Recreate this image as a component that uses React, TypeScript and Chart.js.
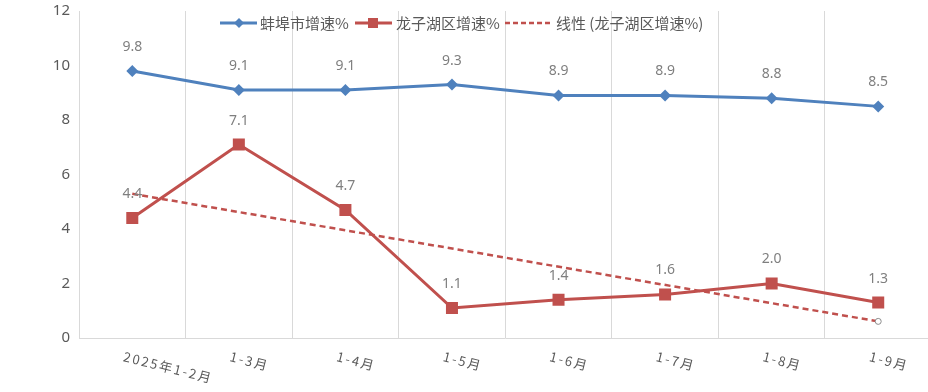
import React, { useEffect, useRef } from "react";
import { Chart, registerables } from "chart.js";

Chart.register(...registerables);

const categories = ["2025年1-2月", "1-3月", "1-4月", "1-5月", "1-6月", "1-7月", "1-8月", "1-9月"];
const bengbu = [9.8, 9.1, 9.1, 9.3, 8.9, 8.9, 8.8, 8.5];
const longzihu = [4.4, 7.1, 4.7, 1.1, 1.4, 1.6, 2.0, 1.3];
// linear trend endpoints
const trend = [5.29, null, null, null, null, null, null, 0.61];
const yTicks = [0, 2, 4, 6, 8, 10, 12];
const legendLabels = ["蚌埠市增速%", "龙子湖区增速%", "线性 (龙子湖区增速%)"];

const BLUE = "#4f81bd";
const RED = "#c0504d";
const TEXT = "#595959";
const LABEL = "#7f7f7f";
const GRID = "#d9d9d9";
const CJK = '"Noto Sans CJK SC", "Noto Sans", sans-serif';

const customPlugin = {
  id: "custom",
  afterDatasetsDraw(chart: any) {
    const ctx = chart.ctx;
    ctx.save();
    ctx.font = "14px 'Noto Sans', sans-serif";
    ctx.fillStyle = LABEL;
    ctx.textAlign = "center";
    ctx.textBaseline = "middle";
    [0, 1].forEach((di) => {
      const meta = chart.getDatasetMeta(di);
      const data = chart.data.datasets[di].data as number[];
      meta.data.forEach((pt: any, i: number) => {
        ctx.fillText(data[i].toFixed(1), pt.x, pt.y - 24);
      });
    });
    ctx.restore();
  },
  afterDraw(chart: any) {
    const ctx = chart.ctx;
    const xs = chart.scales.x;
    // x labels
    ctx.save();
    ctx.font = "13px " + CJK;
    ctx.fillStyle = TEXT;
    ctx.textAlign = "left";
    ctx.textBaseline = "top";
    try {
      (ctx as any).letterSpacing = "2px";
    } catch (e) {}
    categories.forEach((c, i) => {
      const x = xs.getPixelForValue(i);
      ctx.save();
      ctx.translate(x - 7, 350);
      ctx.rotate((14 * Math.PI) / 180);
      ctx.fillText(c, 0, 0);
      ctx.restore();
    });
    ctx.restore();

    // legend
    ctx.save();
    const ly = 23;
    ctx.font = "15px " + CJK;
    ctx.fillStyle = TEXT;
    ctx.textAlign = "left";
    ctx.textBaseline = "middle";
    // item 1
    ctx.strokeStyle = BLUE;
    ctx.lineWidth = 3;
    ctx.beginPath();
    ctx.moveTo(220, ly);
    ctx.lineTo(257, ly);
    ctx.stroke();
    ctx.fillStyle = BLUE;
    ctx.beginPath();
    ctx.moveTo(239, ly - 5);
    ctx.lineTo(244, ly);
    ctx.lineTo(239, ly + 5);
    ctx.lineTo(234, ly);
    ctx.closePath();
    ctx.fill();
    ctx.fillStyle = TEXT;
    ctx.fillText(legendLabels[0], 260, ly);
    // item 2
    ctx.strokeStyle = RED;
    ctx.beginPath();
    ctx.moveTo(355, ly);
    ctx.lineTo(392, ly);
    ctx.stroke();
    ctx.fillStyle = RED;
    ctx.fillRect(368, ly - 5, 10, 10);
    ctx.fillStyle = TEXT;
    ctx.fillText(legendLabels[1], 396, ly);
    // item 3
    ctx.strokeStyle = RED;
    ctx.lineWidth = 2.5;
    ctx.setLineDash([5, 3]);
    ctx.beginPath();
    ctx.moveTo(505, ly);
    ctx.lineTo(552, ly);
    ctx.stroke();
    ctx.setLineDash([]);
    ctx.fillText(legendLabels[2], 556, ly);
    ctx.restore();
  },
};

export default function App() {
  const ref = useRef<HTMLCanvasElement>(null);
  useEffect(() => {
    if (!ref.current) return;
    const chart = new Chart(ref.current, {
      type: "line",
      data: {
        labels: categories,
        datasets: [
          {
            label: legendLabels[0],
            data: bengbu,
            borderColor: BLUE,
            backgroundColor: BLUE,
            borderWidth: 3,
            pointStyle: "rectRot",
            pointRadius: 6,
            pointBorderWidth: 0,
          },
          {
            label: legendLabels[1],
            data: longzihu,
            borderColor: RED,
            backgroundColor: RED,
            borderWidth: 3,
            pointStyle: "rect",
            pointRadius: 8.5,
            pointBorderWidth: 0,
          },
          {
            label: legendLabels[2],
            data: trend as any,
            borderColor: RED,
            backgroundColor: "#ffffff",
            borderWidth: 2.5,
            borderDash: [6, 4],
            spanGaps: true,
            pointStyle: "circle",
            pointRadius: [0, 0, 0, 0, 0, 0, 0, 3],
            pointBorderColor: "#8c8c8c",
            pointBorderWidth: 1,
          },
        ],
      },
      options: {
        responsive: false,
        animation: false,
        layout: { padding: { top: 11, right: 0, bottom: 0, left: 0 } },
        plugins: { legend: { display: false }, tooltip: { enabled: false } },
        scales: {
          x: {
            offset: true,
            grid: { display: true, offset: true, color: GRID, drawTicks: false, lineWidth: 1 },
            border: { display: true, color: GRID },
            ticks: { display: false },
            afterFit(scale: any) {
              scale.height = 54;
              scale.paddingLeft = 0;
              scale.paddingRight = 0;
            },
          },
          y: {
            min: 0,
            max: 12,
            afterBuildTicks(scale: any) {
              scale.ticks = yTicks.map((v) => ({ value: v }));
            },
            grid: { display: false, drawTicks: false },
            border: { display: true, color: GRID },
            ticks: {
              color: TEXT,
              font: { size: 15, family: "'Noto Sans', sans-serif" },
              padding: 9,
            },
            afterFit(scale: any) {
              scale.width = 79;
              scale.paddingTop = 0;
              scale.paddingBottom = 0;
            },
          },
        },
      },
      plugins: [customPlugin],
    });
    return () => chart.destroy();
  }, []);
  return (
    <div
      style={{
        position: "absolute",
        left: 0,
        top: 0,
        width: 928,
        height: 392,
        overflow: "hidden",
        background: "#fff",
      }}
    >
      <canvas ref={ref} width={940} height={392} style={{ display: "block" }} />
    </div>
  );
}
